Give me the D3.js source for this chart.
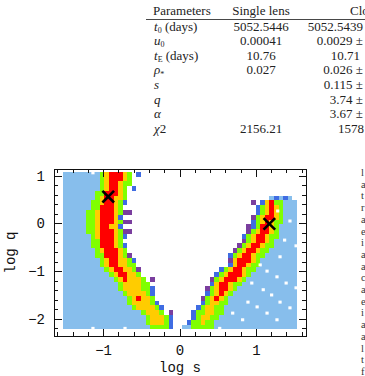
<!DOCTYPE html>
<html><head><meta charset="utf-8">
<script src="https://cdn.jsdelivr.net/npm/d3@7/dist/d3.min.js"></script>
<style>html,body{margin:0;padding:0;background:#fff;overflow:hidden}</style>
</head><body>
<svg id="c" width="365" height="376" xmlns="http://www.w3.org/2000/svg"></svg>
<script>
// ---------- DATA ----------
// table
const tableHeader = ["Parameters", "Single lens", "Close"];
const paramLabels = [
  [["t","i"],["0","sub"],[" (days)",""]],
  [["u","i"],["0","sub"]],
  [["t","i"],["E","sub"],[" (days)",""]],
  [["ρ","i"],["*","sub"]],
  [["s","i"]],
  [["q","i"]],
  [["α","i"]],
  [["χ","i"],["2",""]]
];
const singleLens = ["5052.5446","0.00041","10.76","0.027","","","","2156.21"];
const closeLens  = ["5052.5439","0.0029 ±","10.71","0.026 ±","0.115 ±","3.74 ±","3.67 ±","1578"];

// grid of (log s, log q) cells: per row (top to bottom), column ranges and class code
// b light blue, g green, y yellow, r red, B blue, p purple
const rowSpecs = [
 "0-7b 8g 9y 10-12r 13y 14g 16B",
 "0-7b 8g 9y 10-12r 13y 14g",
 "0-7b 8g 9y 10-11r 12y 13-14g",
 "0-7b 8g 9y 10-11r 12y 13g 15B",
 "0-6b 7-8g 9-11r 12y 13g",
 "0-6b 7g 8y 9-10r 11-12y 13g 45b 46B 47b 48B 49b",
 "0-5b 6-7g 8y 9-10r 11y 12g 13B 41p 43B 44y 45r 46-47g 48-50b",
 "0-5b 6-7g 8-10r 11y 12g 42B 43g 44y 45r 46y 47g 48-50b",
 "0-4b 5-6g 7y 8-10r 11y 12g 13-14p 42B 43g 44y 45r 46y 47g 48-50b",
 "0-4b 5-6g 7y 8-10r 11y 12B 41p 42g 43y 44-45r 46y 47g 48-50b",
 "0-4b 5-6g 7y 8-10r 11y 12g 13-14p 41B 42g 43y 44r 45y 46-47g 48-50b",
 "0-4b 5-6g 7y 8-9r 10-11y 12B 40p 41B 42g 43-44r 45y 46g 47-50b",
 "0-4b 5-6g 7y 8-10r 11y 12g 13-14p 40p 41g 42y 43-44r 45y 46g 47-50b",
 "0-5b 6g 7y 8-10r 11y 12g 13B 39B 40g 41y 42-43r 44y 45-46g 47-50b",
 "0-5b 6-7g 8-10r 11y 12g 39p 40g 41y 42-43r 44y 45g 46-50b",
 "0-5b 6-7g 8-10r 11y 12g 13B 38p 39g 40y 41-42r 43y 44-45g 46-50b",
 "0-6b 7g 8y 9-11r 12y 13g 37p 38g 39y 40-41r 42y 43-44g 45-50b",
 "0-6b 7-8g 9-11r 12y 13g 14p 36B 37g 38y 39-40r 41y 42-43g 44-50b",
 "0-7b 8g 9y 10-11r 12-13y 14g 15B 36p 37y 38-40r 41y 42g 43-50b",
 "0-7b 8g 9y 10-11r 12-13y 14-15g 36B 37y 38-39r 40y 41-42g 43-50b",
 "0-8b 9g 10y 11-12r 13-14y 15g 16p 34B 35g 36y 37-38r 39y 40-41g 42-50b",
 "0-9b 10g 11y 12-13r 14-15y 16g 33B 34g 35y 36-38r 39y 40g 41-50b",
 "0-10b 11g 12y 13r 14-16y 17g 19p 32p 33g 34y 35-37r 38y 39g 40-50b",
 "0-11b 12g 13-16y 17-18g 32B 33y 34-35r 36y 37-38g 39-50b",
 "0-11b 12g 13-16y 17-18g 19B 31p 32g 33y 34-35r 36y 37g 38-50b",
 "0-12b 13g 14-17y 18g 19B 31B 32g 33y 34r 35y 36g 37-50b",
 "0-13b 14g 15y 16r 17-18y 19g 30p 31g 32y 33r 34y 35g 36-50b",
 "0-13b 14g 15-18y 19g 20B 30B 31g 32-33y 34-35g 36-50b",
 "0-14b 15g 16-19y 20g 21B 29B 30g 31-32y 33-34g 35-50b",
 "0-16b 17g 18-20y 21g 23p 28B 29-30g 31-32y 33-34g 35-50b",
 "0-17b 18g 19-21y 22g 23B 28B 29g 30-31y 32-33g 34-50b",
 "0-17b 18g 19-21y 22g 23B 27B 28-29g 30y 31-32g 33-50b",
 "0-18b 19-22g 23B 26-27b 28-32g 33-50b"
];
const gridS0 = -1.53, gridDS = 0.06, gridQ0 = 1.09, gridDQ = 0.1;

// unsampled points (white dots) in log s / log q
const holeS = [1.28,1.44,1.37,1.52,1.31,1.05,1.14,1.27,1.39,1.52,0.94,1.09,1.20,1.31,0.89,1.01,1.14,1.44,0.69,0.82,1.27,-1.14,-1.14,-0.72,0.52];
const holeQ = [0.27,0.06,-0.34,-0.46,-0.69,-0.86,-0.99,-1.11,-1.24,-1.34,-1.24,-1.38,-1.49,-1.64,-1.64,-1.74,-1.87,-1.76,-1.87,-2.01,-2.01,1.07,-2.19,-2.19,-2.19];

// best-fit solutions
const bestS = [-0.94, 1.17];
const bestQ = [0.57, 0.00];

// axis ticks
const xMajor = [-1, 0, 1], xMajorLabels = ["−1", "0", "1"];
const yMajor = [-2, -1, 0, 1], yMajorLabels = ["−2", "−1", "0", "1"];
const xLabel = "log s", yLabel = "log q";

// clipped body text on the right page margin
const fragChars = ["l","a","t","r","a","e","i","a","a","c","a","e","i","a","a","l","t","f"];

// ---------- DRAW ----------
const svg = d3.select("#c");
const colors = {b:"#87beec", g:"#80ff00", y:"#ffcc00", r:"#ff0000", B:"#3f6ce2", p:"#7a3e9e"};

// table
const tg = svg.append("g").attr("font-family","'Liberation Serif','Times New Roman',serif").attr("font-size",13).attr("fill","#222");
const rowBase = d3.range(paramLabels.length).map(k => 30.6 + 14.6*k);
tg.append("text").attr("x",153).attr("y",14.5).text(tableHeader[0]);
tg.append("text").attr("x",261).attr("y",14.5).attr("text-anchor","middle").text(tableHeader[1]);
tg.append("text").attr("x",350).attr("y",14.5).text(tableHeader[2]);
tg.append("line").attr("x1",146).attr("x2",365).attr("y1",19.5).attr("y2",19.5).attr("stroke","#333").attr("stroke-width",0.9);
paramLabels.forEach((pieces,k) => {
  const t = tg.append("text").attr("x",154).attr("y",rowBase[k]);
  let shifted = false;
  pieces.forEach(([s,st]) => {
    const ts = t.append("tspan").text(s);
    if (st === "i") ts.attr("font-style","italic");
    if (st === "sub") { ts.attr("font-size",8).attr("dy",2.2); shifted = true; }
    else if (shifted) { ts.attr("dy",-2.2); shifted = false; }
  });
});
const closeEnd = [363,363,360,363,363,363,363,364];
singleLens.forEach((v,k) => { if (v) tg.append("text").attr("x",261).attr("y",rowBase[k]).attr("text-anchor","middle").text(v); });
closeLens.forEach((v,k) => tg.append("text").attr("x",closeEnd[k]).attr("y",rowBase[k]).attr("text-anchor","end").text(v));

// chart
const x = d3.scaleLinear().domain([-1.65, 1.65]).range([54, 306]);
const y = d3.scaleLinear().domain([-2.35, 1.15]).range([336, 169]);

const cells = [];
rowSpecs.forEach((spec,j) => {
  spec.split(/\s+/).forEach(tok => {
    const m = tok.match(/^(\d+)(?:-(\d+))?([a-zA-Z])$/);
    if (!m) return;
    const a = +m[1], b = m[2] ? +m[2] : a;
    for (let i=a;i<=b;i++) cells.push({i, j, c:m[3]});
  });
});
svg.append("g").attr("shape-rendering","crispEdges").selectAll("rect").data(cells).join("rect")
  .attr("x", d => x(gridS0 + d.i*gridDS))
  .attr("y", d => y(gridQ0 - d.j*gridDQ))
  .attr("width", d => x(gridS0 + (d.i+1)*gridDS) - x(gridS0 + d.i*gridDS))
  .attr("height", d => y(gridQ0 - (d.j+1)*gridDQ) - y(gridQ0 - d.j*gridDQ))
  .attr("fill", d => colors[d.c]);

svg.append("g").selectAll("rect").data(holeS.map((s,k)=>({s,q:holeQ[k]}))).join("rect")
  .attr("x", d => x(d.s)-1.6).attr("y", d => y(d.q)-1.5).attr("width",3.2).attr("height",3)
  .attr("fill","#fff");

// crosses
const cg = svg.append("g").attr("stroke","#000").attr("stroke-width",2.6).attr("stroke-linecap","butt");
bestS.forEach((s,k) => {
  const cx = x(s), cy = y(bestQ[k]), r = 5.8;
  cg.append("line").attr("x1",cx-r).attr("y1",cy-r).attr("x2",cx+r).attr("y2",cy+r);
  cg.append("line").attr("x1",cx-r).attr("y1",cy+r).attr("x2",cx+r).attr("y2",cy-r);
});

// frame + inward ticks on all sides
const fg = svg.append("g").attr("stroke","#111").attr("stroke-width",1).attr("fill","none").attr("shape-rendering","crispEdges");
fg.append("rect").attr("x",x.range()[0]).attr("y",y.range()[1]).attr("width",x.range()[1]-x.range()[0]).attr("height",y.range()[0]-y.range()[1]);
const xMinor = d3.range(-16,17,2).map(v=>v/10).filter(v=>!xMajor.some(m=>Math.abs(m-v)<1e-9));
const yMinor = d3.range(-22,11,2).map(v=>v/10).filter(v=>!yMajor.some(m=>Math.abs(m-v)<1e-9));
const [X0,X1] = x.range(), Y0 = y.range()[0], Y1 = y.range()[1];
function xt(v,len){ fg.append("line").attr("x1",x(v)).attr("x2",x(v)).attr("y1",Y0).attr("y2",Y0-len);
                    fg.append("line").attr("x1",x(v)).attr("x2",x(v)).attr("y1",Y1).attr("y2",Y1+len); }
function yt(v,len){ fg.append("line").attr("y1",y(v)).attr("y2",y(v)).attr("x1",X0).attr("x2",X0+len);
                    fg.append("line").attr("y1",y(v)).attr("y2",y(v)).attr("x1",X1).attr("x2",X1-len); }
xMinor.forEach(v=>xt(v,4)); xMajor.forEach(v=>xt(v,7.5));
yMinor.forEach(v=>yt(v,4)); yMajor.forEach(v=>yt(v,7.5));

// axis labels
const ag = svg.append("g").attr("font-family","'Liberation Mono','Courier New',monospace").attr("font-size",14).attr("fill","#111");
xMajor.forEach((v,k)=> ag.append("text").attr("x",x(v)).attr("y",355).attr("text-anchor","middle").text(xMajorLabels[k]));
yMajor.forEach((v,k)=> ag.append("text").attr("x",45).attr("y",y(v)+4.5).attr("text-anchor","end").text(yMajorLabels[k]));
ag.append("text").attr("x",x(0)).attr("y",372).attr("text-anchor","middle").text(xLabel);
ag.append("text").attr("transform",`translate(15,${(Y0+Y1)/2}) rotate(-90)`).attr("text-anchor","middle").text(yLabel);

// clipped margin text
const mg = svg.append("g").attr("font-family","'Liberation Serif',serif").attr("font-size",10.5).attr("fill","#333");
fragChars.forEach((ch,k)=> mg.append("text").attr("x",361).attr("y",176+11.7*k).text(ch));
</script>
</body></html>
